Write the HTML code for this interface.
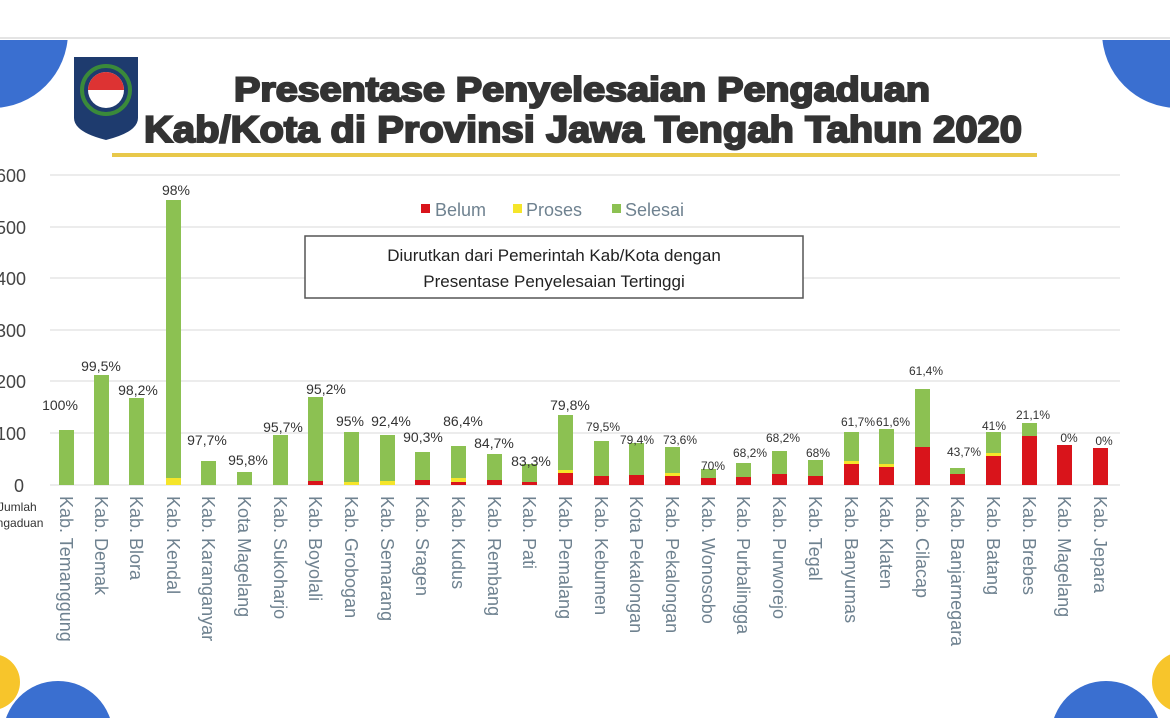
<!DOCTYPE html>
<html><head><meta charset="utf-8"><style>
html,body{margin:0;padding:0;background:#fff;width:1170px;height:725px;overflow:hidden;}
svg{display:block;font-family:"Liberation Sans",sans-serif;}
.g{fill:#8cc152}.y{fill:#f5e52a}.r{fill:#d9141b}
.p{font-size:14px;fill:#333;text-anchor:middle}
.s{font-size:12px;fill:#333;text-anchor:middle}
.l{font-size:18px;fill:#6f8290}
.ax{font-size:18px;fill:#444}
</style></head><body>
<svg width="1170" height="725" viewBox="0 0 1170 725" xmlns="http://www.w3.org/2000/svg">
<defs><clipPath id="c"><rect x="0" y="40" width="1170" height="678"/></clipPath></defs>
<rect width="1170" height="725" fill="#fff"/>
<line x1="0" y1="38" x2="1170" y2="38" stroke="#e4e4e4" stroke-width="2"/>
<g clip-path="url(#c)">
<circle cx="-8" cy="32" r="76" fill="#3a6fd0"/>
<circle cx="1178" cy="32" r="76" fill="#3a6fd0"/>
<circle cx="-8" cy="682" r="28" fill="#f7c52b"/>
<circle cx="58" cy="736" r="55" fill="#3a6fd0"/>
<circle cx="1182" cy="682" r="30" fill="#f7c52b"/>
<circle cx="1106" cy="736" r="55" fill="#3a6fd0"/>
</g>
<!-- logo -->
<path d="M74 57 H138 V118 Q138 132 106 140 Q74 132 74 118 Z" fill="#1e3b6e"/>
<circle cx="106" cy="90" r="18" fill="#fff"/>
<path d="M88 90 A18 18 0 0 1 124 90 Z" fill="#d33"/>
<circle cx="106" cy="90" r="24" fill="none" stroke="#3a8a3a" stroke-width="4"/>
<!-- title -->
<text x="234" y="101" textLength="696" lengthAdjust="spacingAndGlyphs" font-size="34" font-weight="bold" fill="#333" stroke="#333" stroke-width="2">Presentase Penyelesaian Pengaduan</text>
<text x="144" y="142" textLength="878" lengthAdjust="spacingAndGlyphs" font-size="37" font-weight="bold" fill="#333" stroke="#333" stroke-width="2">Kab/Kota di Provinsi Jawa Tengah Tahun 2020</text>
<rect x="112" y="153" width="925" height="4" fill="#e8c84a"/>
<!-- grid -->
<g stroke="#e6e6e6" stroke-width="1.5">
<line x1="50" y1="175" x2="1120" y2="175"/><line x1="50" y1="227" x2="1120" y2="227"/>
<line x1="50" y1="278" x2="1120" y2="278"/><line x1="50" y1="330" x2="1120" y2="330"/>
<line x1="50" y1="381" x2="1120" y2="381"/><line x1="50" y1="433" x2="1120" y2="433"/>
<line x1="50" y1="485" x2="1120" y2="485"/>
</g>
<text class="ax" x="-4" y="182">600</text><text class="ax" x="-4" y="234">500</text>
<text class="ax" x="-4" y="285">400</text><text class="ax" x="-4" y="337">300</text>
<text class="ax" x="-4" y="388">200</text><text class="ax" x="-4" y="440">100</text>
<text class="ax" x="14" y="492">0</text>
<text x="-2" y="511" font-size="12" fill="#333">Jumlah</text>
<text x="-10" y="527" font-size="12" fill="#333">engaduan</text>
<!-- legend -->
<rect x="421" y="204" width="9" height="9" fill="#d9141b"/><text x="435" y="216" font-size="18" fill="#6f8290">Belum</text>
<rect x="513" y="204" width="9" height="9" fill="#f5e52a"/><text x="526" y="216" font-size="18" fill="#6f8290">Proses</text>
<rect x="612" y="204" width="9" height="9" fill="#8cc152"/><text x="625" y="216" font-size="18" fill="#6f8290">Selesai</text>
<rect x="305" y="236" width="498" height="62" fill="#fff" stroke="#555" stroke-width="1.5"/>
<text x="554" y="261" text-anchor="middle" font-size="17" fill="#222">Diurutkan dari Pemerintah Kab/Kota dengan</text>
<text x="554" y="287" text-anchor="middle" font-size="17" fill="#222">Presentase Penyelesaian Tertinggi</text>
<!-- bars -->
<rect class="g" x="59" y="430" width="15" height="55"/>
<rect class="g" x="94" y="375" width="15" height="110"/>
<rect class="g" x="129" y="398" width="15" height="87"/>
<rect class="g" x="166" y="200" width="15" height="278"/><rect class="y" x="166" y="478" width="15" height="7"/>
<rect class="g" x="201" y="461" width="15" height="24"/>
<rect class="g" x="237" y="472" width="15" height="13"/>
<rect class="g" x="273" y="435" width="15" height="50"/>
<rect class="g" x="308" y="397" width="15" height="85"/><rect class="r" x="308" y="481" width="15" height="4"/>
<rect class="g" x="344" y="432" width="15" height="51"/><rect class="y" x="344" y="482" width="15" height="3"/>
<rect class="g" x="380" y="435" width="15" height="48"/><rect class="y" x="380" y="481" width="15" height="4"/>
<rect class="g" x="415" y="452" width="15" height="28"/><rect class="r" x="415" y="480" width="15" height="5"/>
<rect class="g" x="451" y="446" width="15" height="32"/><rect class="y" x="451" y="478" width="15" height="4"/><rect class="r" x="451" y="482" width="15" height="3"/>
<rect class="g" x="487" y="454" width="15" height="26"/><rect class="r" x="487" y="480" width="15" height="5"/>
<rect class="g" x="522" y="464" width="15" height="18"/><rect class="r" x="522" y="482" width="15" height="3"/>
<rect class="g" x="558" y="415" width="15" height="55"/><rect class="y" x="558" y="470" width="15" height="3"/><rect class="r" x="558" y="473" width="15" height="12"/>
<rect class="g" x="594" y="441" width="15" height="35"/><rect class="r" x="594" y="476" width="15" height="9"/>
<rect class="g" x="629" y="443" width="15" height="32"/><rect class="r" x="629" y="475" width="15" height="10"/>
<rect class="g" x="665" y="447" width="15" height="26"/><rect class="y" x="665" y="473" width="15" height="3"/><rect class="r" x="665" y="476" width="15" height="9"/>
<rect class="g" x="701" y="469" width="15" height="9"/><rect class="r" x="701" y="478" width="15" height="7"/>
<rect class="g" x="736" y="463" width="15" height="14"/><rect class="r" x="736" y="477" width="15" height="8"/>
<rect class="g" x="772" y="451" width="15" height="23"/><rect class="r" x="772" y="474" width="15" height="11"/>
<rect class="g" x="808" y="460" width="15" height="16"/><rect class="r" x="808" y="476" width="15" height="9"/>
<rect class="g" x="844" y="432" width="15" height="29"/><rect class="y" x="844" y="461" width="15" height="3"/><rect class="r" x="844" y="464" width="15" height="21"/>
<rect class="g" x="879" y="429" width="15" height="35"/><rect class="y" x="879" y="464" width="15" height="3"/><rect class="r" x="879" y="467" width="15" height="18"/>
<rect class="g" x="915" y="389" width="15" height="58"/><rect class="r" x="915" y="447" width="15" height="38"/>
<rect class="g" x="950" y="468" width="15" height="6"/><rect class="r" x="950" y="474" width="15" height="11"/>
<rect class="g" x="986" y="432" width="15" height="21"/><rect class="y" x="986" y="453" width="15" height="3"/><rect class="r" x="986" y="456" width="15" height="29"/>
<rect class="g" x="1022" y="423" width="15" height="13"/><rect class="r" x="1022" y="436" width="15" height="49"/>
<rect class="r" x="1057" y="445" width="15" height="40"/>
<rect class="r" x="1093" y="448" width="15" height="37"/>
<!-- pct -->
<text class="p" x="60" y="410">100%</text><text class="p" x="101" y="371">99,5%</text>
<text class="p" x="138" y="395">98,2%</text><text class="p" x="176" y="195">98%</text>
<text class="p" x="207" y="445">97,7%</text><text class="p" x="248" y="465">95,8%</text>
<text class="p" x="283" y="432">95,7%</text><text class="p" x="326" y="394">95,2%</text>
<text class="p" x="350" y="426">95%</text><text class="p" x="391" y="426">92,4%</text>
<text class="p" x="423" y="442">90,3%</text><text class="p" x="463" y="426">86,4%</text>
<text class="p" x="494" y="448">84,7%</text><text class="p" x="531" y="466">83,3%</text>
<text class="p" x="570" y="410">79,8%</text><text class="s" x="603" y="431">79,5%</text>
<text class="s" x="637" y="444">79,4%</text><text class="s" x="680" y="444">73,6%</text>
<text class="s" x="713" y="470">70%</text><text class="s" x="750" y="457">68,2%</text>
<text class="s" x="783" y="442">68,2%</text><text class="s" x="818" y="457">68%</text>
<text class="s" x="858" y="426">61,7%</text><text class="s" x="893" y="426">61,6%</text>
<text class="s" x="926" y="375">61,4%</text><text class="s" x="964" y="456">43,7%</text>
<text class="s" x="994" y="430">41%</text><text class="s" x="1033" y="419">21,1%</text>
<text class="s" x="1069" y="442">0%</text><text class="s" x="1104" y="445">0%</text>
<!-- labels -->
<g class="l">
<text transform="translate(60,496) rotate(90)">Kab. Temanggung</text>
<text transform="translate(95,496) rotate(90)">Kab. Demak</text>
<text transform="translate(130,496) rotate(90)">Kab. Blora</text>
<text transform="translate(167,496) rotate(90)">Kab. Kendal</text>
<text transform="translate(202,496) rotate(90)">Kab. Karanganyar</text>
<text transform="translate(238,496) rotate(90)">Kota Magelang</text>
<text transform="translate(274,496) rotate(90)">Kab. Sukoharjo</text>
<text transform="translate(309,496) rotate(90)">Kab. Boyolali</text>
<text transform="translate(345,496) rotate(90)">Kab. Grobogan</text>
<text transform="translate(381,496) rotate(90)">Kab. Semarang</text>
<text transform="translate(416,496) rotate(90)">Kab. Sragen</text>
<text transform="translate(452,496) rotate(90)">Kab. Kudus</text>
<text transform="translate(488,496) rotate(90)">Kab. Rembang</text>
<text transform="translate(523,496) rotate(90)">Kab. Pati</text>
<text transform="translate(559,496) rotate(90)">Kab. Pemalang</text>
<text transform="translate(595,496) rotate(90)">Kab. Kebumen</text>
<text transform="translate(630,496) rotate(90)">Kota Pekalongan</text>
<text transform="translate(666,496) rotate(90)">Kab. Pekalongan</text>
<text transform="translate(702,496) rotate(90)">Kab. Wonosobo</text>
<text transform="translate(737,496) rotate(90)">Kab. Purbalingga</text>
<text transform="translate(773,496) rotate(90)">Kab. Purworejo</text>
<text transform="translate(809,496) rotate(90)">Kab. Tegal</text>
<text transform="translate(845,496) rotate(90)">Kab. Banyumas</text>
<text transform="translate(880,496) rotate(90)">Kab. Klaten</text>
<text transform="translate(916,496) rotate(90)">Kab. Cilacap</text>
<text transform="translate(951,496) rotate(90)">Kab. Banjarnegara</text>
<text transform="translate(987,496) rotate(90)">Kab. Batang</text>
<text transform="translate(1023,496) rotate(90)">Kab. Brebes</text>
<text transform="translate(1058,496) rotate(90)">Kab. Magelang</text>
<text transform="translate(1094,496) rotate(90)">Kab. Jepara</text>
</g>
</svg>
</body></html>
